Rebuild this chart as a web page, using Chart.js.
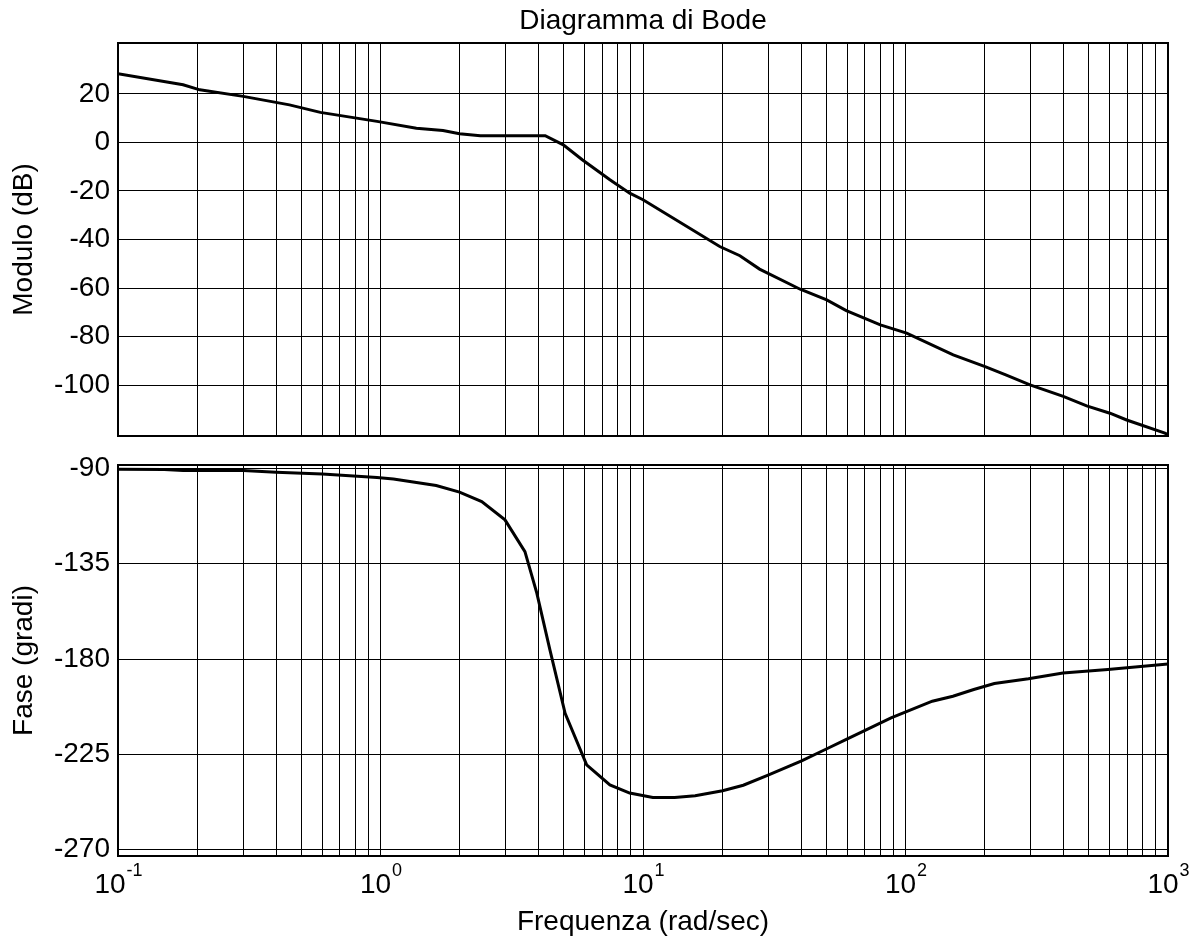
<!DOCTYPE html>
<html>
<head>
<meta charset="utf-8">
<script src="https://cdn.jsdelivr.net/npm/chart.js@4/dist/chart.umd.min.js"></script>
<style>
  body { margin: 0; background: #fff; }
  #wrap { position: relative; width: 1197px; height: 942px; }
  canvas { position: absolute; left: 0; }
  #modCanvas { top: 0; }
  #phaseCanvas { top: 440px; }
</style>
</head>
<body>
<div id="wrap">
  <canvas id="modCanvas" width="1197" height="440"></canvas>
  <canvas id="phaseCanvas" width="1197" height="502"></canvas>
</div>
<script>
// data
const freqMod = [0.1, 0.177, 0.205, 0.3, 0.45, 0.59, 0.97, 1.37, 1.73, 2.0, 2.4, 4.24, 4.97, 5.87, 7.48, 8.9, 10,
  19.6, 23.4, 27.8, 39.7, 50.1, 59.5, 80.2, 101, 152, 201, 241, 298, 399, 490, 601, 696, 973, 1000];
const modulo = [28.3, 23.8, 21.7, 19.0, 15.5, 12.4, 8.7, 5.9, 4.9, 3.6, 2.8, 2.8, -1.0, -7.1, -15.4, -20.9, -23.6,
  -42.9, -46.7, -52.2, -60.5, -64.9, -69.3, -75.2, -78.6, -87.6, -92.4, -95.8, -99.9, -104.7, -108.6, -111.6, -114.4, -119.8, -120.5];

const freqFase = [0.1, 0.15, 0.177, 0.3, 0.4, 0.6, 0.97, 1.12, 1.63, 2.0, 2.43, 2.98, 3.55, 3.94, 4.42, 5.05, 6.1,
  7.48, 8.9, 10.9, 13.2, 15.8, 20.1, 24.1, 29.8, 40.2, 49.7, 59.5, 69.2, 88.1, 126.5, 151.6, 182, 218, 294, 398, 590, 1000];
const fase = [-90.4, -90.5, -91, -91, -91.8, -92.7, -94.3, -95, -98.1, -101.2, -105.7, -114.3, -129.3, -148.9, -175.7, -205.6, -230,
  -239.4, -243.3, -245.4, -245.4, -244.6, -242.2, -239.6, -234.9, -228.1, -222.6, -217.9, -214, -207.8, -199.9, -197.6, -194.4, -191.6, -189.3, -186.6, -185, -182.4];

const modTicks = [20, 0, -20, -40, -60, -80, -100];
const faseTicks = [-90, -135, -180, -225, -270];
const decades = [-1, 0, 1, 2, 3];

// log grid: 1..9 in every decade
const freqTicks = [];
for (let d = -1; d < 3; d++) {
  for (let m = 1; m <= 9; m++) freqTicks.push(+(m * Math.pow(10, d)).toPrecision(3));
}
freqTicks.push(1000);

const FONT = 'Liberation Sans, Arial, sans-serif';
const FS = 28;

const boxPlugin = {
  id: 'box',
  afterDraw(chart) {
    const a = chart.chartArea;
    const ctx = chart.ctx;
    ctx.save();
    ctx.strokeStyle = '#000';
    ctx.lineWidth = 2;
    ctx.strokeRect(a.left, a.top, a.right - a.left, a.bottom - a.top);
    ctx.restore();
  }
};

// 10^k labels under the phase plot
const decadeLabels = {
  id: 'decadeLabels',
  afterDraw(chart) {
    const ctx = chart.ctx;
    const x = chart.scales.x;
    ctx.save();
    ctx.fillStyle = '#000';
    ctx.textBaseline = 'middle';
    ctx.textAlign = 'left';
    decades.forEach(k => {
      const px = x.getPixelForValue(Math.pow(10, k));
      ctx.font = FS + 'px ' + FONT;
      const w1 = ctx.measureText('10').width;
      ctx.font = '18px ' + FONT;
      const w2 = ctx.measureText(String(k)).width;
      const x0 = px - (w1 + w2) / 2;
      ctx.font = FS + 'px ' + FONT;
      ctx.fillText('10', x0, 445);
      ctx.font = '18px ' + FONT;
      ctx.fillText(String(k), x0 + w1 + 1, 431);
    });
    ctx.restore();
  }
};

function xScale(bottom) {
  return {
    type: 'logarithmic',
    min: 0.1,
    max: 1000,
    afterBuildTicks: s => { s.ticks = freqTicks.map(v => ({ value: v })); },
    afterFit: s => { s.height = bottom ? 86 : 0; },
    ticks: { display: false },
    grid: { color: '#000', lineWidth: 1, drawTicks: false },
    border: { display: false },
    title: {
      display: bottom,
      text: 'Frequenza (rad/sec)',
      color: '#000',
      font: { family: FONT, size: FS },
      padding: { top: 0, bottom: 3 }
    }
  };
}

function yScale(min, max, ticks, label) {
  return {
    min: min,
    max: max,
    afterBuildTicks: s => { s.ticks = ticks.map(v => ({ value: v })); },
    afterFit: s => { s.width = 118; s.paddingTop = 0; s.paddingBottom = 0; },
    ticks: { color: '#000', font: { family: FONT, size: FS }, padding: 8 },
    grid: { color: '#000', lineWidth: 1, drawTicks: false },
    border: { display: false },
    title: {
      display: true,
      text: label,
      color: '#000',
      font: { family: FONT, size: FS },
      padding: { top: 7 }
    }
  };
}

const lineStyle = { borderColor: '#000', borderWidth: 3, pointRadius: 0, tension: 0, fill: false };

new Chart(document.getElementById('modCanvas'), {
  type: 'line',
  data: {
    datasets: [Object.assign({ label: 'Modulo', data: freqMod.map((f, i) => ({ x: f, y: modulo[i] })) }, lineStyle)]
  },
  options: {
    responsive: false,
    animation: false,
    devicePixelRatio: 1,
    parsing: false,
    layout: { padding: { left: 0, right: 29, top: 0, bottom: 4 } },
    plugins: {
      legend: { display: false },
      tooltip: { enabled: false },
      title: {
        display: true,
        text: 'Diagramma di Bode',
        color: '#000',
        fullSize: false,
        font: { family: FONT, size: FS, weight: 'normal' },
        padding: { top: 4, bottom: 5.4 }
      }
    },
    scales: { x: xScale(false), y: yScale(-121, 41, modTicks, 'Modulo (dB)') }
  },
  plugins: [boxPlugin]
});

new Chart(document.getElementById('phaseCanvas'), {
  type: 'line',
  data: {
    datasets: [Object.assign({ label: 'Fase', data: freqFase.map((f, i) => ({ x: f, y: fase[i] })) }, lineStyle)]
  },
  options: {
    responsive: false,
    animation: false,
    devicePixelRatio: 1,
    parsing: false,
    layout: { padding: { left: 0, right: 29, top: 25, bottom: 0 } },
    plugins: { legend: { display: false }, tooltip: { enabled: false } },
    scales: { x: xScale(true), y: yScale(-273, -88.4, faseTicks, 'Fase (gradi)') }
  },
  plugins: [boxPlugin, decadeLabels]
});
</script>
</body>
</html>
